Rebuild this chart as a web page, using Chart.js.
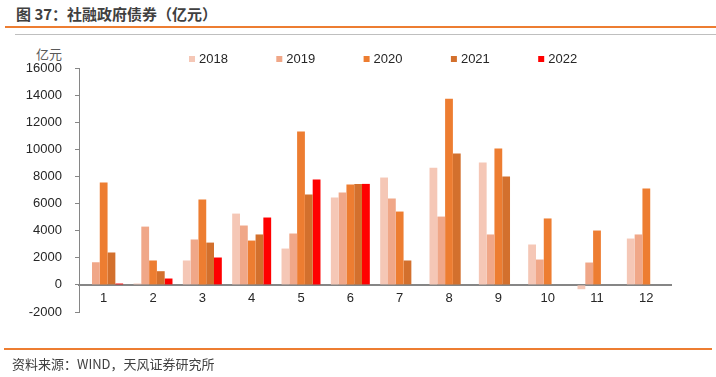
<!DOCTYPE html>
<html>
<head>
<meta charset="utf-8">
<script src="https://cdn.jsdelivr.net/npm/chart.js@4"></script>
<style>
  body { margin: 0; background: #fff; }
  #wrap { position: relative; width: 716px; height: 377px; overflow: hidden; background: #fff; }
  #chart { position: absolute; left: 0; top: 0; }
  .title { position: absolute; left: 16px; top: 3px; font: bold 15px "Noto Sans CJK SC", sans-serif; color: #404040; white-space: nowrap; }
  .rule-o { position: absolute; height: 2px; background: #ED7D31; }
  .rule-g { position: absolute; height: 1px; background: #BFBFBF; }
  .unit { position: absolute; right: 654px; top: 44px; font: 13px "Noto Sans CJK SC", sans-serif; color: #595959; }
  .source { position: absolute; left: 12px; top: 354px; font: 13px "Noto Sans CJK SC", sans-serif; color: #404040; white-space: nowrap; }
</style>
</head>
<body>
<div id="wrap">
  <div class="title">图 37：社融政府债券（亿元）</div>
  <div class="rule-o" style="left:5px; right:0; top:26px;"></div>
  <div class="rule-g" style="left:15px; right:0; top:34px;"></div>
  <div class="unit">亿元</div>
  <canvas id="chart" width="716" height="377"></canvas>
  <div class="rule-o" style="left:4px; width:708px; top:348px;"></div>
  <div class="source">资料来源：WIND，天风证券研究所</div>
</div>
<script>
const months = ["1", "2", "3", "4", "5", "6", "7", "8", "9", "10", "11", "12"];
const years = ["2018", "2019", "2020", "2021", "2022"];
const y2018 = [null, 100, 1800, 5260, 2680, 6450, 7920, 8640, 9030, 2980, -320, 3420];
const y2019 = [1670, 4300, 3350, 4380, 3790, 6810, 6370, 5040, 3720, 1870, 1650, 3720];
const y2020 = [7550, 1800, 6300, 3270, 11320, 7400, 5410, 13730, 10060, 4900, 4010, 7110];
const y2021 = [2390, 1010, 3120, 3720, 6670, 7450, 1800, 9690, 8000, null, null, null];
const y2022 = [100, 470, 2020, 4970, 7770, 7450, null, null, null, null, null, null];
const yTicks = [16000, 14000, 12000, 10000, 8000, 6000, 4000, 2000, 0, -2000];
const colors = ["#F5C7B6", "#F0A788", "#ED7D31", "#D3702D", "#FF0000"];

const series = [y2018, y2019, y2020, y2021, y2022];

// legend drawn flat in one row, like the original
const legendPlugin = {
  id: "flatLegend",
  afterDraw(c) {
    const g = c.ctx;
    g.save();
    g.font = "13px 'Liberation Sans', Arial, sans-serif";
    g.textBaseline = "middle";
    c.data.datasets.forEach((ds, i) => {
      const x = 189 + i * 87.3;
      g.fillStyle = ds.backgroundColor;
      g.fillRect(x, 56, 6, 6);
      g.fillStyle = "#262626";
      g.fillText(ds.label, x + 10, 59);
    });
    g.restore();
  }
};

new Chart(document.getElementById("chart"), {
  type: "bar",
  data: {
    labels: months,
    datasets: series.map((d, i) => ({
      label: years[i],
      data: d,
      backgroundColor: colors[i],
      borderWidth: 0,
      categoryPercentage: 0.79,
      barPercentage: 1
    }))
  },
  options: {
    responsive: false,
    devicePixelRatio: 1,
    animation: false,
    layout: { padding: { top: 68, left: 0, right: 45, bottom: 65 } },
    plugins: { legend: { display: false }, tooltip: { enabled: false } },
    scales: {
      x: {
        position: { y: 0 },
        afterFit: s => { s.height = 0; },
        grid: { display: false, drawTicks: false },
        border: { display: true, color: "#868686", width: 2 },
        ticks: { padding: 6, color: "#262626", font: { size: 13, family: "'Liberation Sans', Arial" } }
      },
      y: {
        min: -2000,
        max: 16000,
        afterFit: s => { s.width = 79; },
        afterBuildTicks: s => { s.ticks = yTicks.map(v => ({ value: v })); },
        grid: { drawOnChartArea: false, drawTicks: true, tickLength: 4, color: "#868686" },
        border: { display: true, color: "#868686", width: 1 },
        ticks: {
          padding: 13,
          color: "#262626",
          font: { size: 13, family: "'Liberation Sans', Arial" },
          callback: v => String(v)
        }
      }
    }
  },
  plugins: [legendPlugin]
});
</script>
</body>
</html>
